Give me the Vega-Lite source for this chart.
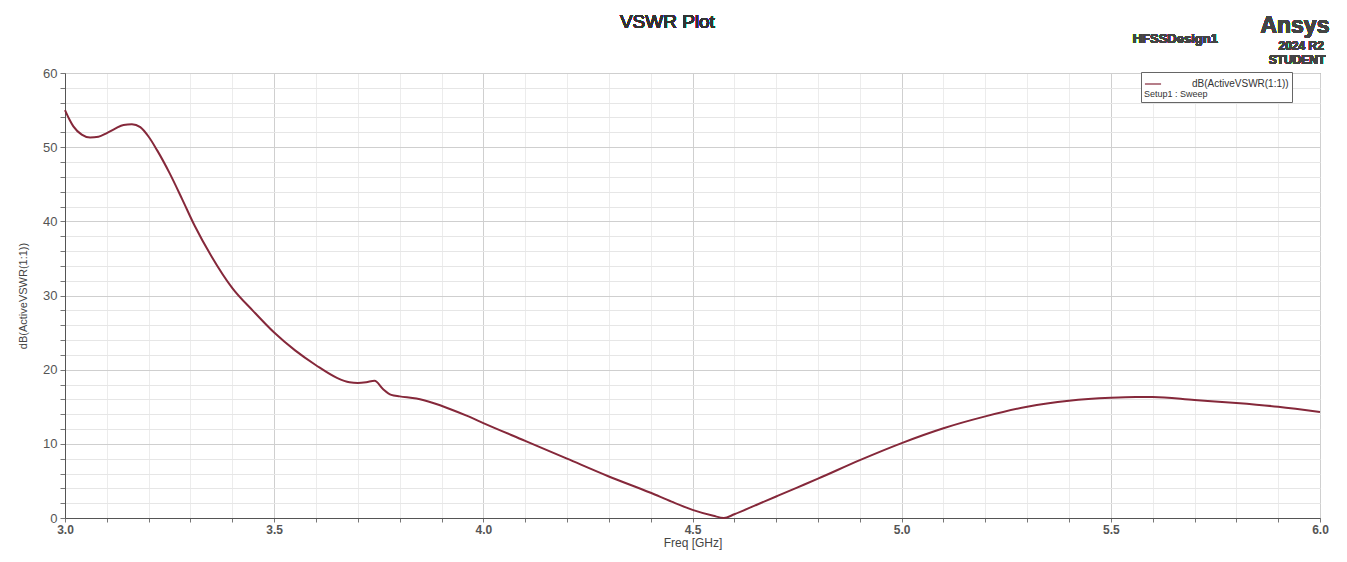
{
  "$schema": "https://vega.github.io/schema/vega-lite/v6.json",
  "width": 1255,
  "height": 445,
  "autosize": {"type": "none"},
  "padding": {"left": 65, "top": 73, "right": 27, "bottom": 44},
  "background": "white",
  "config": {
    "font": "Liberation Sans",
    "view": {"stroke": "#777", "strokeWidth": 1},
    "legend": {
      "orient": "none", "legendX": 1076, "legendY": -1,
      "strokeColor": "#666", "fillColor": "white", "padding": 3,
      "titleOrient": "bottom", "titleFontSize": 9, "titleFontWeight": "normal", "titleColor": "#333", "titlePadding": 1,
      "labelFontSize": 10, "labelColor": "#333", "symbolType": "stroke", "symbolStrokeWidth": 1.2, "symbolSize": 260, "labelOffset": 30
    }
  },
  "resolve": {"axis": {"x": "independent", "y": "independent"}},
  "data": {"values": [
    {"freq": 3.00, "v": 55.0}, {"freq": 3.01, "v": 53.8}, {"freq": 3.02, "v": 52.8}, {"freq": 3.04, "v": 51.7},
    {"freq": 3.06, "v": 51.3}, {"freq": 3.08, "v": 51.4}, {"freq": 3.10, "v": 51.9}, {"freq": 3.12, "v": 52.5},
    {"freq": 3.14, "v": 53.0}, {"freq": 3.16, "v": 53.1}, {"freq": 3.18, "v": 52.7}, {"freq": 3.20, "v": 51.4},
    {"freq": 3.22, "v": 49.6}, {"freq": 3.25, "v": 46.5}, {"freq": 3.28, "v": 43.0}, {"freq": 3.31, "v": 39.4},
    {"freq": 3.35, "v": 35.3}, {"freq": 3.40, "v": 31.0}, {"freq": 3.45, "v": 27.9}, {"freq": 3.50, "v": 25.0},
    {"freq": 3.55, "v": 22.6}, {"freq": 3.60, "v": 20.6}, {"freq": 3.65, "v": 18.9}, {"freq": 3.68, "v": 18.3},
    {"freq": 3.70, "v": 18.2}, {"freq": 3.72, "v": 18.3}, {"freq": 3.74, "v": 18.5}, {"freq": 3.76, "v": 17.4},
    {"freq": 3.78, "v": 16.6}, {"freq": 3.80, "v": 16.4}, {"freq": 3.84, "v": 16.1}, {"freq": 3.88, "v": 15.5},
    {"freq": 3.92, "v": 14.7}, {"freq": 3.96, "v": 13.8}, {"freq": 4.00, "v": 12.8}, {"freq": 4.10, "v": 10.4},
    {"freq": 4.20, "v": 8.0}, {"freq": 4.30, "v": 5.6}, {"freq": 4.40, "v": 3.4}, {"freq": 4.45, "v": 2.2},
    {"freq": 4.50, "v": 1.1}, {"freq": 4.55, "v": 0.3}, {"freq": 4.575, "v": 0.0}, {"freq": 4.60, "v": 0.5},
    {"freq": 4.65, "v": 1.7}, {"freq": 4.70, "v": 2.9}, {"freq": 4.75, "v": 4.1}, {"freq": 4.80, "v": 5.3},
    {"freq": 4.90, "v": 7.8}, {"freq": 5.00, "v": 10.1},
    {"freq": 5.10, "v": 12.1}, {"freq": 5.20, "v": 13.7}, {"freq": 5.30, "v": 15.0}, {"freq": 5.40, "v": 15.8},
    {"freq": 5.50, "v": 16.2}, {"freq": 5.56, "v": 16.3}, {"freq": 5.60, "v": 16.3}, {"freq": 5.70, "v": 15.9},
    {"freq": 5.80, "v": 15.5}, {"freq": 5.90, "v": 15.0}, {"freq": 6.00, "v": 14.3}
  ]},
  "layer": [
    {
      "mark": {"type": "line", "interpolate": "monotone", "strokeWidth": 2},
      "encoding": {
        "x": {"field": "freq", "type": "quantitative",
          "scale": {"domain": [3, 6], "nice": false, "zero": false},
          "axis": {"orient": "bottom", "title": "Freq [GHz]", "titleFontSize": 12, "titleFontWeight": "normal", "titleColor": "#444", "titlePadding": 2,
            "values": [3.0,3.1,3.2,3.3,3.4,3.5,3.6,3.7,3.8,3.9,4.0,4.1,4.2,4.3,4.4,4.5,4.6,4.7,4.8,4.9,5.0,5.1,5.2,5.3,5.4,5.5,5.6,5.7,5.8,5.9,6.0],
            "labelExpr": "abs(round(datum.value*2) - datum.value*2) < 0.001 ? format(datum.value, '.1f') : ''",
            "labelOverlap": false, "labelFlush": false,
            "labelFontSize": 12, "labelFontWeight": "bold", "labelColor": "#555", "labelPadding": 2,
            "domainColor": "#555", "tickColor": "#777", "tickSize": 4,
            "gridColor": {"condition": {"test": "abs(round(datum.value*2) - datum.value*2) < 0.001", "value": "#cfcfcf"}, "value": "#ececec"}
          }},
        "y": {"field": "v", "type": "quantitative",
          "scale": {"domain": [0, 60], "nice": false},
          "axis": {"orient": "left", "title": "dB(ActiveVSWR(1:1))", "titleFontSize": 11, "titleFontWeight": "normal", "titleColor": "#444", "titlePadding": 14,
            "values": [0,2,4,6,8,10,12,14,16,18,20,22,24,26,28,30,32,34,36,38,40,42,44,46,48,50,52,54,56,58,60],
            "labelExpr": "datum.value % 10 === 0 ? format(datum.value, 'd') : ''",
            "labelOverlap": false, "labelFlush": false,
            "labelFontSize": 13, "labelColor": "#555", "labelPadding": 3,
            "domainColor": "#555", "tickColor": "#777", "tickSize": 5,
            "gridColor": {"condition": {"test": "datum.value % 10 === 0", "value": "#cfcfcf"}, "value": "#e6e6e6"}
          }},
        "color": {"datum": "dB(ActiveVSWR(1:1))", "type": "nominal",
          "scale": {"range": ["#85283a"]},
          "legend": {"title": "Setup1 : Sweep"}}
      }
    },
    {
      "mark": {"type": "text", "clip": false, "font": "Liberation Sans", "fontSize": 19, "color": "#333", "align": "center", "baseline": "middle"},
      "encoding": {"x": {"datum": 4.44, "axis": null}, "y": {"datum": 66.85, "axis": null}, "text": {"value": "VSWR Plot"}}
    },
    {
      "mark": {"type": "text", "clip": false, "font": "Liberation Sans", "fontSize": 13, "fontWeight": "bold", "color": "#444", "align": "center"},
      "encoding": {"x": {"datum": 5.654, "axis": null}, "y": {"datum": 64.6, "axis": null}, "text": {"value": "HFSSDesign1"}}
    },
    {
      "mark": {"type": "text", "clip": false, "font": "Liberation Sans", "fontSize": 23, "fontWeight": "bold", "color": "#444", "align": "center"},
      "encoding": {"x": {"datum": 5.94, "axis": null}, "y": {"datum": 66.4, "axis": null}, "text": {"value": "Ansys"}}
    },
    {
      "mark": {"type": "text", "clip": false, "font": "Liberation Sans", "fontSize": 12, "fontWeight": "bold", "color": "#444", "align": "center"},
      "encoding": {"x": {"datum": 5.955, "axis": null}, "y": {"datum": 63.7, "axis": null}, "text": {"value": "2024 R2"}}
    },
    {
      "mark": {"type": "text", "clip": false, "font": "Liberation Sans", "fontSize": 12, "fontWeight": "bold", "color": "#444", "align": "center"},
      "encoding": {"x": {"datum": 5.945, "axis": null}, "y": {"datum": 61.8, "axis": null}, "text": {"value": "STUDENT"}}
    }
  ]
}
